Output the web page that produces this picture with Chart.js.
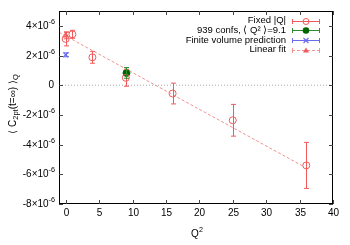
<!doctype html>
<html>
<head>
    <title>C2pt vs Q2</title>
    <script src="https://cdn.jsdelivr.net/npm/chart.js@4.4.0/dist/chart.umd.min.js"></script>
    <style>
    body { margin: 0; background: #fff; }
    canvas { display: block; }
    </style>
</head>
<body>
<canvas id="mycanvas" width="350" height="245"></canvas>
<script>

// data (values in units of 1e-6)
var fixedQ2  = [0, 1, 4, 9, 16, 25, 36];
var fixedVal = [3.12, 3.43, 1.88, 0.5, -0.56, -2.36, -5.4];
var fixedErr = [0.47, 0.27, 0.4, 0.57, 0.7, 1.07, 1.55];

var confQ2  = [9.1];
var confVal = [0.83];
var confErr = [0.36];

var fvQ2  = [0];
var fvVal = [2.05];
var fvErr = [0.13];

var fitQ2  = [0];
var fitVal = [3.35];
var fitErr = [0.22];

var fitLineX = [-1, 35.5];
var fitLineY = [3.57, -5.45];

var xTicks = [0, 5, 10, 15, 20, 25, 30, 35, 40];
var yTicks = [-8, -6, -4, -2, 0, 2, 4];

var RED = '#f05a5a', GREEN = '#006400', GREENBAR = '#2f8a2f', BLUE = '#6a6af0', PINK = '#f39090';
var FONT = '"Liberation Sans", Arial, sans-serif';
var E = 1e-6;

function pts(xs, ys) {
  return xs.map(function (x, i) { return { x: x, y: ys[i] * E }; });
}

var datasets = [
  { label: 'zero', type: 'line', data: pts([-1, 40], [0, 0]), borderColor: '#aaaaaa',
    borderWidth: 1, borderDash: [1, 2], pointRadius: 0 },
  { label: 'Linear fit line', type: 'line', data: pts(fitLineX, fitLineY), borderColor: PINK,
    borderWidth: 1, borderDash: [3, 2], pointRadius: 0 },
  { label: 'Fixed |Q|', data: pts(fixedQ2, fixedVal), errors: fixedErr, barColor: RED,
    borderColor: RED, backgroundColor: 'rgba(0,0,0,0)', pointStyle: 'circle', pointRadius: 3.5, borderWidth: 1 },
  { label: '939 confs', data: pts(confQ2, confVal), errors: confErr, barColor: GREENBAR,
    borderColor: GREEN, backgroundColor: GREEN, pointStyle: 'circle', pointRadius: 3.5, borderWidth: 1 },
  { label: 'Finite volume prediction', data: pts(fvQ2, fvVal), errors: fvErr, barColor: BLUE,
    borderColor: BLUE, backgroundColor: BLUE, pointStyle: 'crossRot', pointRadius: 3.5, borderWidth: 1.2 },
  { label: 'Linear fit', data: pts(fitQ2, fitVal), errors: fitErr, barColor: RED,
    borderColor: RED, backgroundColor: RED, pointStyle: 'triangle', pointRadius: 3, borderWidth: 1 }
];

function supText(ctx, x, y, base, sup, size, align) {
  ctx.font = size + 'px ' + FONT;
  var w1 = ctx.measureText(base).width;
  ctx.font = (size * 0.72) + 'px ' + FONT;
  var w2 = ctx.measureText(sup).width;
  var start = align === 'right' ? x - w1 - w2 : (align === 'center' ? x - (w1 + w2) / 2 : x);
  ctx.textAlign = 'left';
  ctx.textBaseline = 'middle';
  ctx.font = size + 'px ' + FONT;
  ctx.fillText(base, start, y);
  ctx.font = (size * 0.72) + 'px ' + FONT;
  ctx.fillText(sup, start + w1, y - size * 0.42);
}

function errBar(ctx, x, y1, y2, cap) {
  ctx.beginPath();
  ctx.moveTo(x, y1); ctx.lineTo(x, y2);
  ctx.moveTo(x - cap, y1); ctx.lineTo(x + cap, y1);
  ctx.moveTo(x - cap, y2); ctx.lineTo(x + cap, y2);
  ctx.stroke();
}

var gnuplotLook = {
  id: 'gnuplotLook',
  afterDatasetsDraw: function (chart) {
    var ctx = chart.ctx, xs = chart.scales.x, ys = chart.scales.y, a = chart.chartArea;
    ctx.save();

    // error bars
    chart.data.datasets.forEach(function (ds) {
      if (!ds.errors) return;
      ctx.strokeStyle = ds.barColor;
      ctx.lineWidth = 1;
      ds.data.forEach(function (p, j) {
        var x = Math.round(xs.getPixelForValue(p.x)) + 0.5;
        errBar(ctx, x, ys.getPixelForValue(p.y + ds.errors[j] * E),
          ys.getPixelForValue(p.y - ds.errors[j] * E), 2.5);
      });
    });

    // frame
    ctx.strokeStyle = '#000';
    ctx.lineWidth = 1;
    ctx.strokeRect(a.left + 0.5, a.top + 0.5, a.right - a.left - 1, a.bottom - a.top - 1);

    // inward ticks + labels
    ctx.strokeStyle = '#444';
    ctx.fillStyle = '#000';
    xs.ticks.forEach(function (t) {
      var x = Math.round(xs.getPixelForValue(t.value)) + 0.5;
      ctx.beginPath();
      ctx.moveTo(x, a.bottom); ctx.lineTo(x, a.bottom - 4);
      ctx.moveTo(x, a.top); ctx.lineTo(x, a.top + 4);
      ctx.stroke();
      ctx.font = '10px ' + FONT;
      ctx.textAlign = 'center';
      ctx.textBaseline = 'middle';
      ctx.fillText(String(t.value), x, 213.5);
    });
    ys.ticks.forEach(function (t) {
      var y = Math.round(ys.getPixelForValue(t.value)) + 0.5;
      ctx.beginPath();
      ctx.moveTo(a.left, y); ctx.lineTo(a.left + 4, y);
      ctx.moveTo(a.right, y); ctx.lineTo(a.right - 4, y);
      ctx.stroke();
      var m = Math.round(t.value / E);
      if (m === 0) {
        ctx.font = '10px ' + FONT;
        ctx.textAlign = 'right';
        ctx.textBaseline = 'middle';
        ctx.fillText('0', 54, y);
      } else {
        supText(ctx, 55, y, m + '\u00d710', '-6', 10, 'right');
      }
    });

    // axis titles
    supText(ctx, 197, 234, 'Q', '2', 10, 'center');

    ctx.translate(13, 104);
    ctx.rotate(-Math.PI / 2);
    var parts = [['\u27e8 C', 0], ['2pt', 1], ['(t=\u221e) \u27e9', 0], ['Q', 1]];
    var w = 0;
    parts.forEach(function (p) {
      ctx.font = (p[1] ? 7.5 : 10) + 'px ' + FONT;
      w += ctx.measureText(p[0]).width;
    });
    var cx = -w / 2;
    ctx.textAlign = 'left';
    ctx.textBaseline = 'middle';
    parts.forEach(function (p) {
      ctx.font = (p[1] ? 7.5 : 10) + 'px ' + FONT;
      ctx.fillText(p[0], cx, p[1] ? 3 : 0);
      cx += ctx.measureText(p[0]).width;
    });
    ctx.restore();

    // legend
    ctx.save();
    var rows = [
      { text: 'Fixed |Q|', color: RED, marker: 'open' },
      { text: '939 confs, \u27e8 Q\u00b2 \u27e9=9.1', color: GREENBAR, mcolor: GREEN, marker: 'dot' },
      { text: 'Finite volume prediction', color: BLUE, marker: 'cross' },
      { text: 'Linear fit', color: PINK, mcolor: RED, marker: 'tri', dash: true }
    ];
    rows.forEach(function (r, i) {
      var y = 20.5 + i * 9.7;
      ctx.fillStyle = '#000';
      ctx.font = '9.5px ' + FONT;
      ctx.textAlign = 'right';
      ctx.textBaseline = 'middle';
      ctx.fillText(r.text, 286, y);
      var yy = Math.round(y) + 0.5;
      ctx.strokeStyle = r.color;
      ctx.lineWidth = 1;
      ctx.setLineDash(r.dash ? [3, 2] : []);
      ctx.beginPath(); ctx.moveTo(292, yy); ctx.lineTo(320, yy); ctx.stroke();
      ctx.setLineDash([]);
      ctx.beginPath();
      ctx.moveTo(292.5, yy - 2.5); ctx.lineTo(292.5, yy + 2.5);
      ctx.moveTo(319.5, yy - 2.5); ctx.lineTo(319.5, yy + 2.5);
      ctx.stroke();
      var mc = r.mcolor || r.color;
      ctx.strokeStyle = mc; ctx.fillStyle = mc;
      if (r.marker === 'open') {
        ctx.beginPath(); ctx.arc(306, yy, 3, 0, Math.PI * 2); ctx.stroke();
      } else if (r.marker === 'dot') {
        ctx.beginPath(); ctx.arc(306, yy, 3.3, 0, Math.PI * 2); ctx.fill();
      } else if (r.marker === 'cross') {
        ctx.lineWidth = 1.2;
        ctx.beginPath();
        ctx.moveTo(303.5, yy - 2.5); ctx.lineTo(308.5, yy + 2.5);
        ctx.moveTo(303.5, yy + 2.5); ctx.lineTo(308.5, yy - 2.5);
        ctx.stroke();
      } else {
        ctx.beginPath();
        ctx.moveTo(306, yy - 3); ctx.lineTo(309, yy + 2); ctx.lineTo(303, yy + 2);
        ctx.closePath(); ctx.fill();
      }
    });
    ctx.restore();
  }
};

function fixTicks(list) {
  return function (scale) {
    scale.ticks = list.map(function (v) { return { value: v }; });
  };
}
function zeroSize(scale) {
  if (scale.isHorizontal()) scale.height = 0; else scale.width = 0;
}

new Chart(document.getElementById('mycanvas'), {
  type: 'scatter',
  data: { datasets: datasets },
  options: {
    responsive: false,
    animation: false,
    devicePixelRatio: 1,
    layout: { padding: { left: 59, right: 17, top: 11, bottom: 41 } },
    plugins: { legend: { display: false }, tooltip: { enabled: false } },
    scales: {
      x: {
        type: 'linear', min: -1, max: 40,
        afterBuildTicks: fixTicks(xTicks), afterFit: zeroSize,
        grid: { display: false, drawTicks: false }, border: { display: false },
        ticks: { display: false }
      },
      y: {
        type: 'linear', min: -8 * E, max: 5 * E,
        afterBuildTicks: fixTicks(yTicks.map(function (v) { return v * E; })), afterFit: zeroSize,
        grid: { display: false, drawTicks: false }, border: { display: false },
        ticks: { display: false }
      }
    }
  }
  ,
  plugins: [gnuplotLook]
});
</script>
</body>
</html>
